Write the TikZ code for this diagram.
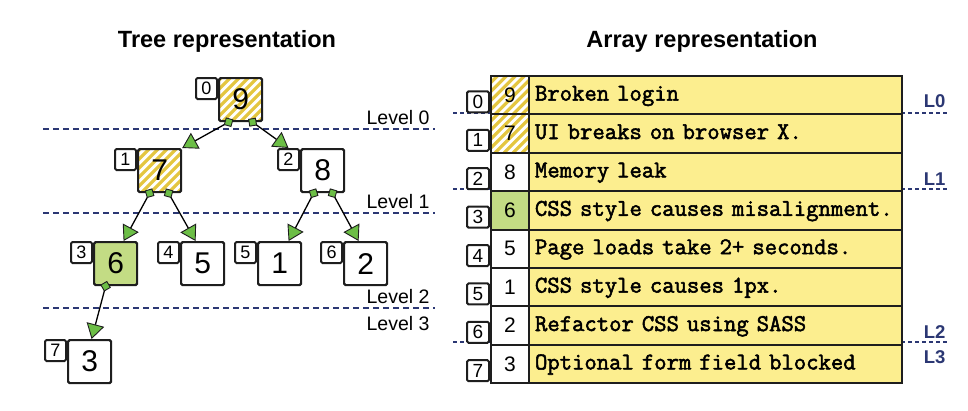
\documentclass[tikz,border=0pt]{standalone}
\usepackage{fontspec}
\setmainfont{Liberation Sans}
\newfontfamily\codefont{Latin Modern Mono}[FakeBold=2.2]
\usetikzlibrary{arrows.meta,calc}
\definecolor{boxline}{HTML}{1E1E1E}
\definecolor{navy}{HTML}{2B3773}
\definecolor{leafgreen}{HTML}{C3DC84}
\definecolor{arrowgreen}{HTML}{6CBE46}
\definecolor{rowyellow}{HTML}{FCEE8F}
\definecolor{stripe}{HTML}{E4C640}
\tikzset{
  striped/.style={path picture={
    \foreach \k in {-50,-41,...,50}{
      \draw[stripe, line width=3.2pt] ($(path picture bounding box.south west)+(\k pt,0pt)$) -- ++(70pt,70pt);}}},
  greencell/.style={fill=leafgreen},
  plaincell/.style={},
  box/.style={draw=boxline, line width=2.2pt, rounded corners=1.5pt, fill=white,
    minimum width=43pt, minimum height=43pt, inner sep=0pt, anchor=north west,
    font=\fontsize{30}{30}\selectfont},
  idx/.style={draw=boxline, line width=2pt, rounded corners=1.5pt, fill=white,
    minimum width=21pt, minimum height=21pt, inner sep=0pt, anchor=north east,
    font=\fontsize{18}{18}\selectfont},
  conn/.style={draw=black, line width=1.3pt, shorten <=-5.5pt,
    {Diamond[length=11pt,width=11pt,fill=arrowgreen,color=boxline,line width=0.9pt]}-{Triangle[length=15pt,width=18pt,fill=arrowgreen,color=boxline,line width=0.9pt]}},
  lvl/.style={anchor=base east, font=\fontsize{19.5}{20}\selectfont},
  lvlline/.style={draw=navy, line width=2pt, dash pattern=on 6pt off 4pt},
  lline/.style={draw=navy, line width=1.5pt, dash pattern=on 4pt off 3pt},
  llab/.style={anchor=base east, text=navy, font=\bfseries\fontsize{18.5}{20}\selectfont},
  title/.style={font=\bfseries\fontsize{23.5}{28}\selectfont, anchor=base},
  numcell/.style={draw=boxline, line width=2pt, fill=white, minimum width=38pt,
    minimum height=38.4pt, inner sep=0pt, anchor=north west, font=\fontsize{21}{21}\selectfont},
  txtcell/.style={draw=boxline, line width=2pt, fill=rowyellow, minimum width=373pt,
    minimum height=38.4pt, text width=361pt, inner xsep=6pt, inner ysep=0pt, align=left,
    anchor=north west, font=\codefont\fontsize{24}{27}\selectfont},
  aidx/.style={draw=boxline, line width=2pt, rounded corners=1.5pt, fill=white,
    minimum width=22pt, minimum height=21pt, inner sep=0pt, anchor=south east,
    font=\fontsize{19}{19}\selectfont},
}
\begin{document}
\begin{tikzpicture}[x=1pt,y=-1pt]
\useasboundingbox (0,0) rectangle (968,410);
% titles
\node[title] (tt) at (227,47) {Tree representation};
\node[title] (at) at (702,47) {Array representation};
% level lines (tree)
\draw[lvlline] (43,129) -- (435,129);
\draw[lvlline] (43,213) -- (435,213);
\draw[lvlline] (43,308) -- (435,308);
\node[lvl] (lv0) at (433,124) {Level 0};
\node[lvl] (lv1) at (433,208) {Level 1};
\node[lvl] (lv2) at (433,303) {Level 2};
\node[lvl] (lv3) at (433,330) {Level 3};
% tree nodes
\node[box, striped] (n9) at (218,77) {9};
\node[idx] (i0) at (n9.north west) {0};
\node[box, striped] (n7) at (137,148) {7};
\node[idx] (i1) at (n7.north west) {1};
\node[box] (n8) at (300,148) {8};
\node[idx] (i2) at (n8.north west) {2};
\node[box, fill=leafgreen] (n6) at (93,241) {6};
\node[idx] (i3) at (n6.north west) {3};
\node[box] (n5) at (180,241) {5};
\node[idx] (i4) at (n5.north west) {4};
\node[box] (n1) at (257,241) {1};
\node[idx] (i5) at (n1.north west) {5};
\node[box] (n2) at (343,241) {2};
\node[idx] (i6) at (n2.north west) {6};
\node[box] (n3) at (67,339) {3};
\node[idx] (i7) at (n3.north west) {7};
% connectors
\draw[conn] ($(n9.south)+(-12,0)$) -- (n7.north east);
\draw[conn] ($(n9.south)+(12,0)$) -- (i2.north);
\draw[conn] ($(n7.south)+(-10,0)$) -- ($(n6.north)+(8,0)$);
\draw[conn] ($(n7.south)+(9,0)$) -- ($(n5.north)+(-7,0)$);
\draw[conn] ($(n8.south)+(-9,0)$) -- ($(n1.north)+(9,0)$);
\draw[conn] ($(n8.south)+(10,0)$) -- ($(n2.north)+(-7,0)$);
\draw[conn] ($(n6.south)+(-10,0)$) -- ($(n3.north)+(2,0)$);
% array level lines
\draw[lline] (453,113) -- (949,113);
\draw[lline] (453,189) -- (949,189);
\draw[lline] (453,342) -- (949,342);
\node[llab] (L0) at (949,107) {L0};
\node[llab] (L1) at (949,185) {L1};
\node[llab] (L2) at (949,338) {L2};
\node[llab] (L3) at (949,363) {L3};
% array rows
\foreach \r/\v/\t/\s in {0/9/{Broken login}/striped,
                         1/7/{UI breaks on browser X.}/striped,
                         2/8/{Memory leak}/plaincell,
                         3/6/{CSS style causes misalignment.}/greencell,
                         4/5/{Page loads take 2+ seconds.}/plaincell,
                         5/1/{CSS style causes 1px.}/plaincell,
                         6/2/{Refactor CSS using SASS}/plaincell,
                         7/3/{Optional form field blocked}/plaincell}{
  \pgfmathsetmacro{\rtop}{75+38.4*\r}
  \pgfmathsetmacro{\rbot}{\rtop+38.4}
  \node[numcell, \s] (c\r) at (490,\rtop) {\v};
  \node[txtcell] (t\r) at (528,\rtop) {\strut\t};
  \node[aidx] (a\r) at (490,\rbot) {\r};
}
\end{tikzpicture}
\end{document}
